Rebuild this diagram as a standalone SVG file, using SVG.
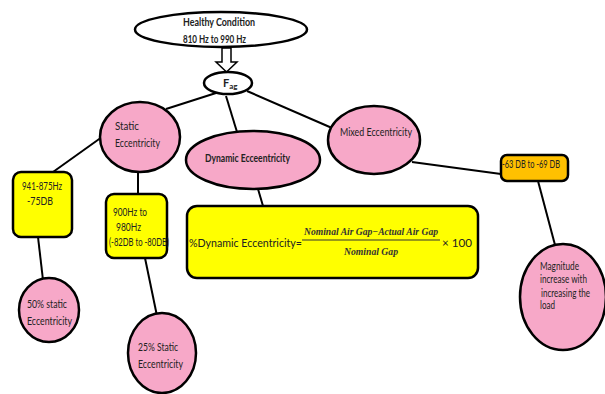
<svg xmlns="http://www.w3.org/2000/svg" width="605" height="394" viewBox="0 0 605 394">
<style>
.pink{fill:#F7A8C8;stroke:#000;stroke-width:2.5}
.white{fill:#fff;stroke:#000;stroke-width:2.5}
.yel{fill:#FFFF00;stroke:#000;stroke-width:2.5}
.org{fill:#FFC000;stroke:#000;stroke-width:2.5}
.t{font-family:Lato,"Liberation Sans",sans-serif;fill:#222;font-size:11px}
.b{font-weight:bold}
.m{font-family:"Liberation Serif",serif;font-style:italic;font-weight:bold;fill:#333;font-size:9.5px}
.c{stroke:#000;stroke-width:2;fill:none}
</style>
<g id="connectors">
<line class="c" x1="216" y1="93" x2="166" y2="109"/>
<line class="c" x1="226" y1="96" x2="237" y2="132"/>
<line class="c" x1="247" y1="91" x2="332" y2="128"/>
<line class="c" x1="102" y1="137" x2="53" y2="172"/>
<line class="c" x1="138" y1="172" x2="138" y2="194"/>
<line class="c" x1="258" y1="189" x2="263" y2="206"/>
<line class="c" x1="412" y1="162" x2="501" y2="174"/>
<line class="c" x1="538" y1="181" x2="555" y2="245"/>
<line class="c" x1="38" y1="237" x2="43" y2="280"/>
<line class="c" x1="145" y1="258" x2="157" y2="316"/>
<polygon points="222,48 231,48 231,62 237,62 226.5,72 216,62 222,62" fill="#fff" stroke="#000" stroke-width="1.5"/>
</g>
<g id="healthy">
<ellipse class="white" cx="221" cy="29.5" rx="86" ry="17.5"/>
<text class="t b" x="183" y="26" textLength="72" lengthAdjust="spacingAndGlyphs">Healthy Condition</text>
<text class="t b" x="183" y="43" textLength="63" lengthAdjust="spacingAndGlyphs">810 Hz to 990 Hz</text>
</g>
<g id="fag">
<ellipse class="white" cx="228" cy="83" rx="24" ry="11"/>
<text class="t b" x="223" y="87" font-size="12">F<tspan font-size="8" dy="2">ag</tspan></text>
</g>
<g id="static">
<ellipse class="pink" cx="140" cy="137" rx="40" ry="35"/>
<text class="t" x="115" y="130" textLength="24" lengthAdjust="spacingAndGlyphs">Static</text>
<text class="t" x="115" y="147" textLength="45" lengthAdjust="spacingAndGlyphs">Eccentricity</text>
</g>
<g id="dynamic">
<ellipse class="pink" cx="253" cy="160" rx="67" ry="29"/>
<text class="t b" x="205" y="162" textLength="85" lengthAdjust="spacingAndGlyphs">Dynamic Ecceentricity</text>
</g>
<g id="mixed">
<ellipse class="pink" cx="374" cy="140" rx="46" ry="34"/>
<text class="t" x="340" y="136" textLength="72" lengthAdjust="spacingAndGlyphs">Mixed Eccentricity</text>
</g>
<g id="box941">
<rect class="yel" x="13" y="172" width="59" height="65" rx="8"/>
<text class="t" x="22" y="190" textLength="40" lengthAdjust="spacingAndGlyphs">941-875Hz</text>
<text class="t" x="27" y="205" textLength="26" lengthAdjust="spacingAndGlyphs">-75DB</text>
</g>
<g id="box900">
<rect class="yel" x="106" y="194" width="61" height="64" rx="8"/>
<text class="t" x="113" y="216" textLength="34" lengthAdjust="spacingAndGlyphs">900Hz to</text>
<text class="t" x="116" y="231" textLength="25" lengthAdjust="spacingAndGlyphs">980Hz</text>
<text class="t" x="109" y="246" font-size="9.5" textLength="60" lengthAdjust="spacingAndGlyphs">(-82DB to -80DB)</text>
</g>
<g id="formula">
<rect class="yel" x="187" y="206" width="291" height="72" rx="10"/>
<text class="t" x="189" y="247" font-size="14" textLength="113" lengthAdjust="spacingAndGlyphs">%Dynamic Eccentricity=</text>
<line x1="302" y1="240" x2="440" y2="240" stroke="#333" stroke-width="1"/>
<text class="m" x="304" y="235" textLength="134" lengthAdjust="spacingAndGlyphs">Nominal Air Gap−Actual Air Gap</text>
<text class="m" x="344" y="255" textLength="54" lengthAdjust="spacingAndGlyphs">Nominal Gap</text>
<text class="t" x="442" y="247" font-size="14" textLength="30" lengthAdjust="spacingAndGlyphs">× 100</text>
</g>
<g id="orange">
<rect class="org" x="501" y="155" width="67" height="26" rx="6"/>
<text class="t" x="502" y="168" font-size="10" textLength="58" lengthAdjust="spacingAndGlyphs">-63 DB to -69 DB</text>
</g>
<g id="magnitude">
<ellipse class="pink" cx="563" cy="297" rx="43" ry="53"/>
<text class="t" x="540" y="270" font-size="9.5" textLength="39" lengthAdjust="spacingAndGlyphs">Magnitude</text>
<text class="t" x="540" y="283" font-size="9.5" textLength="47" lengthAdjust="spacingAndGlyphs">increase with</text>
<text class="t" x="541" y="297" font-size="9.5" textLength="49" lengthAdjust="spacingAndGlyphs">increasing the</text>
<text class="t" x="540" y="309" font-size="9.5" textLength="15" lengthAdjust="spacingAndGlyphs">load</text>
</g>
<g id="s50">
<ellipse class="pink" cx="49" cy="310" rx="30" ry="32"/>
<text class="t" x="27" y="308" font-size="10" textLength="40" lengthAdjust="spacingAndGlyphs">50% static</text>
<text class="t" x="27" y="325" font-size="10" textLength="45" lengthAdjust="spacingAndGlyphs">Eccentricity</text>
</g>
<g id="s25">
<ellipse class="pink" cx="162" cy="353" rx="34" ry="40"/>
<text class="t" x="138" y="351" font-size="10" textLength="40" lengthAdjust="spacingAndGlyphs">25% Static</text>
<text class="t" x="138" y="368" font-size="10" textLength="45" lengthAdjust="spacingAndGlyphs">Eccentricity</text>
</g>
</svg>
